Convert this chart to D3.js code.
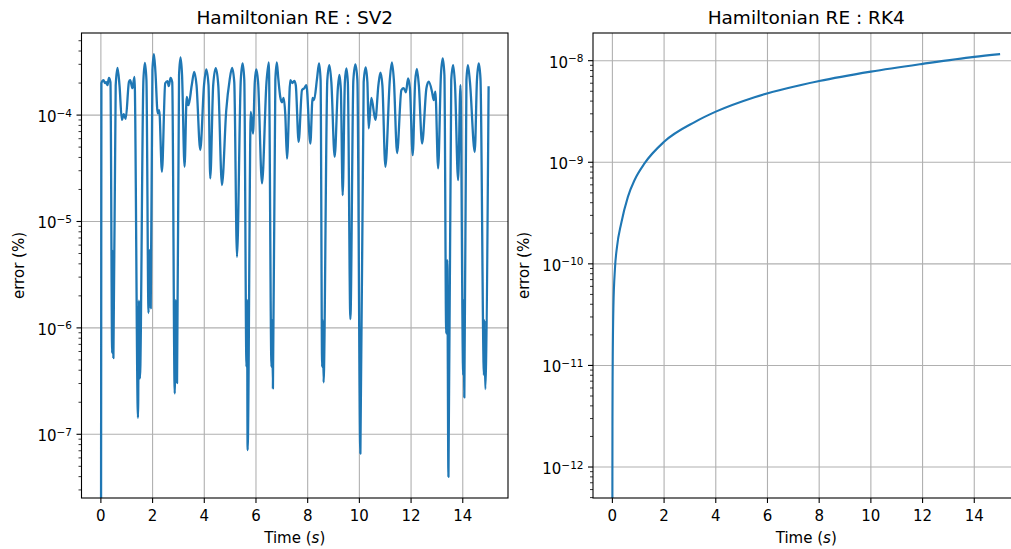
<!DOCTYPE html>
<html><head><meta charset="utf-8">
<script src="https://cdn.jsdelivr.net/npm/d3@7"></script>
<style>body{margin:0;background:#fff;overflow:hidden} text{font-family:"DejaVu Sans",sans-serif;fill:#000}</style>
</head><body><svg id="c" width="1011" height="549"></svg>
<script>
// ---- data ----
const titles = ["Hamiltonian RE : SV2", "Hamiltonian RE : RK4"];
const xTicks = [0, 2, 4, 6, 8, 10, 12, 14];
const sv2Decades = [-7, -6, -5, -4];
const rk4Decades = [-12, -11, -10, -9, -8];

const sv2Time = [0,0.02,0.10,0.16,0.205,0.255,0.31,0.37,0.437,0.46,0.484,0.573,0.643,0.72,0.813,0.883,0.96,1.088,1.134,1.22,1.30,1.436,1.471,1.51,1.645,1.703,1.762,1.843,1.878,1.928,1.994,2.052,2.11,2.199,2.257,2.362,2.489,2.578,2.625,2.695,2.76,2.857,2.896,2.946,3.024,3.082,3.14,3.237,3.32,3.391,3.515,3.612,3.70,3.844,3.99,4.077,4.164,4.231,4.345,4.444,4.541,4.684,4.85,4.98,5.076,5.16,5.265,5.412,5.482,5.548,5.633,5.656,5.676,5.80,5.885,5.954,6.012,6.082,6.233,6.407,6.496,6.60,6.63,6.655,6.749,6.806,6.864,6.94,7.007,7.069,7.135,7.20,7.329,7.406,7.48,7.54,7.65,7.78,7.87,7.95,8.103,8.19,8.246,8.362,8.44,8.50,8.56,8.59,8.614,8.76,8.839,8.916,9.044,9.168,9.226,9.284,9.354,9.439,9.497,9.555,9.652,9.768,9.845,9.923,10.039,10.166,10.244,10.31,10.36,10.465,10.619,10.736,10.813,10.89,11.006,11.181,11.258,11.335,11.459,11.626,11.715,11.80,11.885,11.955,12.064,12.157,12.226,12.30,12.427,12.594,12.683,12.81,12.876,12.94,13.047,13.155,13.225,13.29,13.36,13.40,13.446,13.554,13.628,13.70,13.82,13.91,14.018,14.04,14.06,14.142,14.20,14.278,14.464,14.549,14.619,14.685,14.82,14.843,14.867,15.0];
const sv2Error = [0,2.0e-4,2.13e-4,2.0e-4,2.04e-4,1.91e-4,2.24e-4,2.04e-4,5.8e-7,5.3e-6,5.2e-7,1.9e-4,2.78e-4,1.9e-4,9.0e-5,1.02e-4,9.2e-5,2.06e-4,2.13e-4,1.79e-4,2.29e-4,1.43e-7,1.8e-6,3.35e-7,2.13e-4,3.10e-4,2.13e-4,1.38e-6,5.4e-6,1.53e-6,2.65e-4,3.74e-4,2.54e-4,1.04e-4,1.11e-4,2.93e-5,1.99e-4,2.09e-4,1.87e-4,2.24e-4,2.04e-4,2.42e-7,1.82e-6,3.03e-7,2.38e-4,3.49e-4,2.38e-4,3.27e-5,1.48e-4,1.24e-4,1.91e-4,2.55e-4,1.91e-4,4.7e-5,1.91e-4,2.69e-4,1.91e-4,2.54e-5,1.91e-4,2.76e-4,1.91e-4,2.2e-5,1.11e-4,2.13e-4,2.78e-4,2.04e-4,4.66e-6,2.13e-4,3.06e-4,2.13e-4,4.3e-7,1.82e-6,7.1e-8,1.07e-4,6.7e-5,2.04e-4,2.69e-4,2.04e-4,2.28e-5,2.04e-4,3.13e-4,4.3e-7,1.18e-6,2.70e-7,2.13e-4,3.13e-4,2.2e-4,1.48e-4,1.32e-4,1.45e-4,1.0e-4,3.9e-5,2.13e-4,2.0e-4,2.10e-4,1.91e-4,5.6e-5,1.72e-4,1.79e-4,1.91e-4,5.4e-5,1.45e-4,1.38e-4,2.2e-4,3.06e-4,2.13e-4,4.3e-7,1.18e-6,3.07e-7,2.13e-4,2.95e-4,2.04e-4,4.05e-5,1.79e-4,2.38e-4,1.72e-4,1.77e-5,2.04e-4,2.75e-4,2.0e-4,1.21e-6,2.13e-4,3.0e-4,2.13e-4,6.6e-8,2.04e-4,2.81e-4,2.04e-4,7.5e-5,1.45e-4,9.0e-5,1.91e-4,2.50e-4,1.91e-4,3.27e-5,2.2e-4,3.13e-4,2.13e-4,4.4e-5,1.72e-4,1.79e-4,1.64e-4,2.21e-4,1.79e-4,4.2e-5,2.04e-4,2.71e-4,1.91e-4,5.4e-5,1.79e-4,2.06e-4,1.66e-4,1.38e-4,1.66e-4,3.15e-5,2.38e-4,3.41e-4,2.38e-4,8.9e-7,4.34e-6,3.98e-8,2.13e-4,2.95e-4,1.91e-4,2.45e-5,1.91e-4,3.6e-7,1.82e-6,2.22e-7,2.13e-4,2.95e-4,2.04e-4,4.5e-5,2.13e-4,3.06e-4,2.2e-4,3.6e-7,1.18e-6,2.66e-7,1.87e-4];

const rk4Time = [0,0.001,0.004,0.01,0.04,0.1,0.18,0.34,0.6,0.86,1.25,2,3.2,4,5.5,8,10,12,14,15];
const rk4Error = [0,8e-13,3e-12,8e-12,3.8e-11,9.0e-11,1.48e-10,2.5e-10,4.57e-10,6.7e-10,9.8e-10,1.59e-9,2.5e-9,3.15e-9,4.37e-9,6.3e-9,7.8e-9,9.3e-9,1.09e-8,1.16e-8];

// ---- drawing ----
const svg = d3.select("#c");
const BLUE = "#1f77b4", GRID = "#b0b0b0";

function panel(idx, left, top, w, h, time, err, decades, lw) {
  const g = svg.append("g").attr("transform", `translate(${left},${top})`);
  const tMin = d3.min(time), tMax = d3.max(time), tr = tMax - tMin;
  const x = d3.scaleLinear().domain([tMin - 0.05 * tr, tMax + 0.05 * tr]).range([0, w]);
  const pos = err.filter(v => v > 0);
  const lLo = Math.log10(d3.min(pos)), lHi = Math.log10(d3.max(pos)), lr = lHi - lLo;
  const y = d3.scaleLog().domain([Math.pow(10, lLo - 0.05 * lr), Math.pow(10, lHi + 0.05 * lr)]).range([h, 0]);

  // grid
  const grid = g.append("g");
  xTicks.forEach(t => grid.append("line").attr("x1", x(t)).attr("x2", x(t)).attr("y1", 0).attr("y2", h)
    .attr("stroke", GRID).attr("stroke-width", 1.1));
  decades.forEach(d => grid.append("line").attr("x1", 0).attr("x2", w).attr("y1", y(Math.pow(10, d))).attr("y2", y(Math.pow(10, d)))
    .attr("stroke", GRID).attr("stroke-width", 1.1));

  // line
  const cid = "clip" + idx;
  g.append("clipPath").attr("id", cid).append("rect").attr("width", w).attr("height", h);
  const pts = time.map((t, i) => [t, err[i]]);
  const line = d3.line().x(d => x(d[0])).y(d => d[1] > 0 ? y(d[1]) : h + 200).curve(d3.curveMonotoneX);
  g.append("path").attr("clip-path", `url(#${cid})`).attr("d", line(pts))
    .attr("fill", "none").attr("stroke", BLUE).attr("stroke-width", lw).attr("stroke-linejoin", "round");

  // spines
  g.append("rect").attr("width", w).attr("height", h).attr("fill", "none").attr("stroke", "#000").attr("stroke-width", 1.1);

  // x ticks
  xTicks.forEach(t => {
    g.append("line").attr("x1", x(t)).attr("x2", x(t)).attr("y1", h).attr("y2", h + 5).attr("stroke", "#000").attr("stroke-width", 1.1);
    g.append("text").attr("x", x(t)).attr("y", h + 22.5).attr("text-anchor", "middle").attr("font-size", 15).text(t);
  });
  // y minor ticks
  const [dLo, dHi] = y.domain();
  for (let e = Math.floor(Math.log10(dLo)); e <= Math.ceil(Math.log10(dHi)); e++) {
    for (let k = 2; k <= 9; k++) {
      const v = k * Math.pow(10, e);
      if (v < dLo || v > dHi) continue;
      g.append("line").attr("x1", -3).attr("x2", 0).attr("y1", y(v)).attr("y2", y(v)).attr("stroke", "#000").attr("stroke-width", 0.8);
    }
  }
  // y major ticks + labels
  const labs = g.append("g");
  decades.forEach(d => {
    const yy = y(Math.pow(10, d));
    g.append("line").attr("x1", -5).attr("x2", 0).attr("y1", yy).attr("y2", yy).attr("stroke", "#000").attr("stroke-width", 1.1);
    const t = labs.append("text").attr("x", -9.5).attr("y", yy + 7).attr("text-anchor", "end").attr("font-size", 15);
    t.append("tspan").text("10");
    t.append("tspan").attr("font-size", 10.5).attr("dy", -5.5).text("\u2212" + Math.abs(d));
  });
  const bb = labs.node().getBBox();
  g.append("text").attr("transform", `translate(${bb.x - 13.5},${h / 2}) rotate(-90)`).attr("text-anchor", "middle")
    .attr("font-size", 15).text("error (%)");

  // x label
  const xl = g.append("text").attr("x", w / 2).attr("y", h + 45).attr("text-anchor", "middle").attr("font-size", 15);
  xl.append("tspan").text("Time (");
  xl.append("tspan").attr("font-style", "italic").text("s");
  xl.append("tspan").text(")");

  // title
  g.append("text").attr("x", w / 2).attr("y", -9).attr("text-anchor", "middle").attr("font-size", 18.5).text(titles[idx]);
}

panel(0, 81.5, 33, 426.5, 465, sv2Time, sv2Error, sv2Decades, 2.3);
panel(1, 593, 33, 426.5, 465, rk4Time, rk4Error, rk4Decades, 2.1);
</script></body></html>
